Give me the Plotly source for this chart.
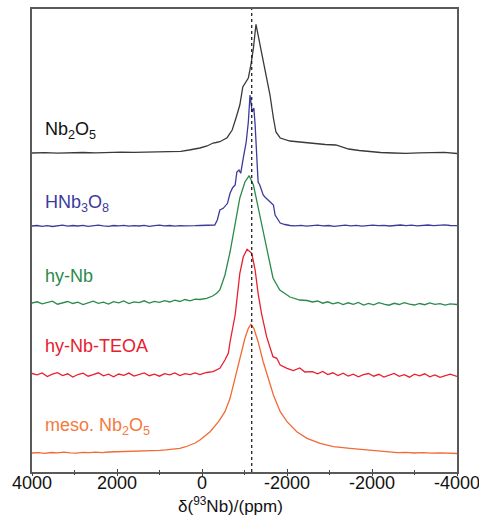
import plotly.graph_objects as go

# ---------------- data (ppm, intensity a.u.) ----------------
nb2o5_ppm = [4000, 3700, 3400, 3100, 2800, 2500, 2200, 1900, 1600, 1300, 1000, 700, 500, 300, 100, 50,
             -120, -260, -330, -420, -590, -710, -800, -890, -960, -1010, -1090, -1150, -1210, -1270,
             -1320, -1380, -1480, -1600, -1680, -1740, -1840, -2070, -2300, -2600, -2900, -3150, -3300,
             -3450, -3700, -3900, -4200, -4500, -4800, -5100, -5400, -5700, -6000]
nb2o5_int = [0, 0.4, -0.2, 0.3, 0.5, 0.2, 0.6, 0.8, 0.6, 1.0, 1.3, 1.5, 1.6, 3, 4.5, 5,
             7, 10, 10.5, 11.3, 15.3, 23, 35, 48, 66, 70, 75, 88, 105, 128.7,
             118, 105, 85, 58, 35, 21, 15, 12, 11, 9.5, 8.5, 8, 6,
             4, 2.5, 1.5, 0.5, 0, -0.3, 0.2, 0.3, 0.6, -0.5]

hnb3o8_ppm = [4000, 3880, 3760, 3640, 3520, 3400, 3280, 3160, 3040, 2920, 2800, 2680, 2560, 2440, 2320,
              2200, 2080, 1960, 1840, 1720, 1600, 1480, 1360, 1240, 1120, 1000, 880, 760, 640, 520, 400,
              280, 160, 50, -300, -360, -420, -500, -600, -660, -720, -780, -820, -870, -910, -970,
              -1040, -1090, -1130, -1180, -1220, -1250, -1290, -1320, -1360, -1440, -1480, -1600, -1680,
              -1720, -1800, -1840, -1950, -2070, -2200, -2330, -2460, -2590, -2720, -2850, -2980, -3110,
              -3240, -3370, -3500, -3630, -3760, -3890, -4020, -4150, -4280, -4410, -4540, -4670, -4800,
              -4930, -5060, -5190, -5320, -5450, -5580, -5710, -5840, -6000]
hnb3o8_int = [0, 0.5, -0.3, 0.4, -0.5, 0.3, 0.8, -0.2, 0.5, 0, 0.6, -0.4, 0.3, 0.9, 0.2,
              -0.3, 0.5, 0.1, 0.7, -0.2, 0.4, 0, 0.6, -0.3, 0.3, 0.8, 0.1, 0.5, -0.2, 0.4, 0.2,
              0.6, 0.3, 0.5, 1.0, 6, 16, 17.7, 22.7, 32.7, 38.3, 41, 54, 56, 52.7, 67.7,
              84, 104, 131, 114, 118, 101, 58, 44, 41, 31, 29, 24, 21,
              11, 6, 3, 1.5, 0.5, 0.2, 0.7, -0.2, 0.4, 0.9, 0.1, 0.5, -0.3,
              0.4, 0.8, 0.2, 0.6, -0.1, 0.5, 0.9, 0.3, 0.7, 0, 0.5, 1.0, 0.4,
              0.8, 0.2, 0.6, 1.0, 0.3, 0.7, 1.2, 0.5, 0.3]

hynb_ppm = [4000, 3880, 3760, 3640, 3520, 3400, 3280, 3160, 3040, 2920, 2800, 2680, 2560, 2440, 2320,
            2200, 2080, 1960, 1840, 1720, 1600, 1480, 1360, 1240, 1120, 1000, 880, 760, 640, 520, 400,
            280, 160, 50, -110, -250, -345, -420, -540, -660, -780, -890, -1010, -1110, -1210, -1320,
            -1440, -1560, -1670, -1830, -2070, -2300, -2470, -2600, -2720, -2840, -2960, -3080, -3200,
            -3320, -3440, -3560, -3680, -3800, -3920, -4040, -4160, -4280, -4400, -4520, -4640, -4760,
            -4880, -5000, -5120, -5240, -5360, -5480, -5600, -5720, -5840, -6000]
hynb_int = [0, 1.2, -0.8, 0.5, 1.8, -1.2, 0.3, 1.5, -0.5, 0.8, -1.5, 0.6, 1.9, -0.3, 0.9,
            -1.0, 1.4, 0.2, 2.0, -0.6, 1.1, 0.4, 2.2, 0.0, 1.6, 0.7, 2.4, 1.0, 2.8, 1.5, 3.5,
            2.2, 3.8, 3.5, 4.7, 7, 9.7, 13, 28, 51, 78, 105, 121, 127.3, 118, 95,
            71, 48, 25, 13, 6, 3, 2.5, 1.0, 2.0, -0.2, 1.2, -0.8, 0.5,
            -1.6, 0.2, -1.3, 0.6, -2.0, -0.4, -1.8, 0.3, -1.1, -2.2, -0.3, -1.5, 0.4,
            -1.2, -2.0, -0.5, -1.7, 0.1, -1.4, -0.6, -2.1, -0.8, -1.5]

teoa_ppm = [4000, 3880, 3760, 3640, 3520, 3400, 3280, 3160, 3040, 2920, 2800, 2680, 2560, 2440, 2320,
            2200, 2080, 1960, 1840, 1720, 1600, 1480, 1360, 1240, 1120, 1000, 880, 760, 640, 520, 400,
            280, 160, 50, -110, -260, -345, -420, -540, -580, -620, -660, -700, -780, -820, -890,
            -970, -1060, -1170, -1250, -1320, -1400, -1520, -1670, -1760, -1840, -2000, -2150, -2300,
            -2420, -2600, -2720, -2840, -2960, -3080, -3200, -3320, -3440, -3560, -3680, -3800, -3920,
            -4040, -4160, -4280, -4400, -4520, -4640, -4760, -4880, -5000, -5120, -5240, -5360, -5480,
            -5600, -5720, -5840, -6000]
teoa_int = [1.5, 0.2, 2.0, -1.5, 0.8, 2.4, -0.5, 1.2, -2.0, 0.5, 1.8, -1.2, 0.3, 2.2, -0.8,
            0.9, -1.8, 1.0, -0.4, 1.9, -1.0, 0.6, 2.1, -0.7, 0.8, -1.2, 1.3, 0.2, 2.0, -0.5, 1.4,
            0.3, 2.0, 0.5, 2.5, 3.3, 5, 6.7, 15, 18, 22, 33, 42, 60, 75, 101.7,
            118, 125.7, 121.7, 105, 81.7, 61.7, 38.3, 18.3, 16.7, 10, 6.7, 4.5, 7.0,
            3.0, 3.3, 1.2, 3.6, 0.5, 2.2, -0.5, 1.8, -1.0, 0.9, -1.8, 0.4, 1.5,
            -1.2, 0.7, -2.0, 0.2, 1.6, -1.4, 0.3, -2.2, 0.8, -0.9, 1.2, -1.8, 0.1,
            -2.4, -0.6, 0.9, -1.5]

meso_ppm = [4000, 3850, 3700, 3550, 3400, 3250, 3100, 2950, 2800, 2650, 2500, 2350, 2200, 2050, 1900,
            1750, 1600, 1450, 1300, 1150, 1000, 850, 700, 520, 400, 280, 160, 50, -190, -390, -540,
            -660, -780, -890, -1010, -1090, -1150, -1220, -1320, -1440, -1560, -1680, -1840, -2000,
            -2230, -2470, -2780, -3090, -3480, -3880, -4190, -4400, -4600, -4800, -5000, -5200, -5400,
            -5600, -5800, -6000]
meso_int = [0, 0.4, -0.3, 0.5, 0.1, 0.8, 0.2, -0.2, 0.6, 0.3, 0.9, 0.4, 1.0, 1.2, 0.9,
            1.5, 1.3, 1.8, 2.2, 2.0, 2.7, 3.2, 3.8, 4.7, 6, 8, 10, 13, 21.3, 31.3, 41.3,
            54.7, 74.7, 94.7, 114.7, 124.7, 128.7, 124.7, 111.3, 91.3, 74.7, 58, 41.3, 31.3,
            21.3, 14.7, 9.7, 6.3, 4.7, 3, 1.3, 1.0, 0.3, 0.6, 0, 0.4, -0.2,
            0.2, -0.4, -0.5]

names = ["Nb<sub>2</sub>O<sub>5</sub>", "HNb<sub>3</sub>O<sub>8</sub>", "hy-Nb", "hy-Nb-TEOA",
         "meso. Nb<sub>2</sub>O<sub>5</sub>"]
offsets = [319, 246, 169, 97, 19]
ref_ppm = -1170

tick_vals = [4000, 2000, 0, -2000, -4000, -6000]
tick_text = ["4000", "2000", "0", "-2000", "-2000", "-4000"]

# ---------------- styles ----------------
colors = ["#3a3a3a", "#3b3b9c", "#2b8a4b", "#e8202e", "#f26a34"]
label_colors = ["#111111", "#3b3b9c", "#2b8a4b", "#e8202e", "#f47a40"]
label_y = [342, 269, 196, 126, 46]
FONT = "Liberation Sans, Arial, sans-serif"

series = [(nb2o5_ppm, nb2o5_int), (hnb3o8_ppm, hnb3o8_int), (hynb_ppm, hynb_int),
          (teoa_ppm, teoa_int), (meso_ppm, meso_int)]

fig = go.Figure()
for (xs, ys), off, col in zip(series, offsets, colors):
    fig.add_trace(go.Scatter(x=xs, y=[v + off for v in ys], mode="lines",
                             line=dict(color=col, width=1.3), showlegend=False,
                             hoverinfo="skip"))

# invisible trace for the second (outside-ticks) axis
fig.add_trace(go.Scatter(x=[4000, -6000], y=[0, 0], xaxis="x2", mode="lines",
                         line=dict(width=0), showlegend=False, hoverinfo="skip"))

fig.add_shape(type="line", xref="x", yref="paper", x0=ref_ppm, x1=ref_ppm, y0=0, y1=1,
              line=dict(color="#111111", width=1.2, dash="dot"))

for name, ly, lc in zip(names, label_y, label_colors):
    fig.add_annotation(x=3740, y=ly, xref="x", yref="y", text=name, showarrow=False,
                       xanchor="left", yanchor="middle",
                       font=dict(family=FONT, size=18, color=lc))

fig.add_annotation(x=-680, y=0, xref="x", yref="paper", text="δ(<sup>93</sup>Nb)/(ppm)",
                   showarrow=False, xanchor="center", yanchor="bottom", yshift=-46,
                   font=dict(family=FONT, size=17, color="#111111"))

axis_common = dict(range=[4000, -6000], tickvals=tick_vals, automargin=False)
fig.update_layout(
    width=479, height=516,
    margin=dict(l=32, r=22, t=9, b=44, autoexpand=False),
    paper_bgcolor="white", plot_bgcolor="white",
    xaxis=dict(**axis_common, ticktext=tick_text, ticks="inside", ticklen=3, tickwidth=1.2,
               tickcolor="#444444", showline=True, mirror=True, linecolor="#5a5a5a",
               linewidth=1.5, showgrid=False, zeroline=False, ticklabeloverflow="allow",
               ticklabelstandoff=-6,
               tickfont=dict(family=FONT, size=18, color="#111111"),
               minor=dict(dtick=1000, tick0=1000, ticks="inside", ticklen=2, tickwidth=1.2,
                          tickcolor="#444444", showgrid=False)),
    xaxis2=dict(**axis_common, overlaying="x", anchor="y", side="bottom", ticks="outside",
                ticklen=3, tickwidth=1.2, tickcolor="#444444", showticklabels=False,
                showline=False, showgrid=False, zeroline=False,
                minor=dict(dtick=1000, tick0=1000, ticks="outside", ticklen=2, tickwidth=1.2,
                           tickcolor="#444444", showgrid=False)),
    yaxis=dict(range=[0, 463], showticklabels=False, ticks="", showgrid=False, zeroline=False,
               showline=True, mirror=True, linecolor="#5a5a5a", linewidth=1.5),
)

fig.write_html("out.html")
